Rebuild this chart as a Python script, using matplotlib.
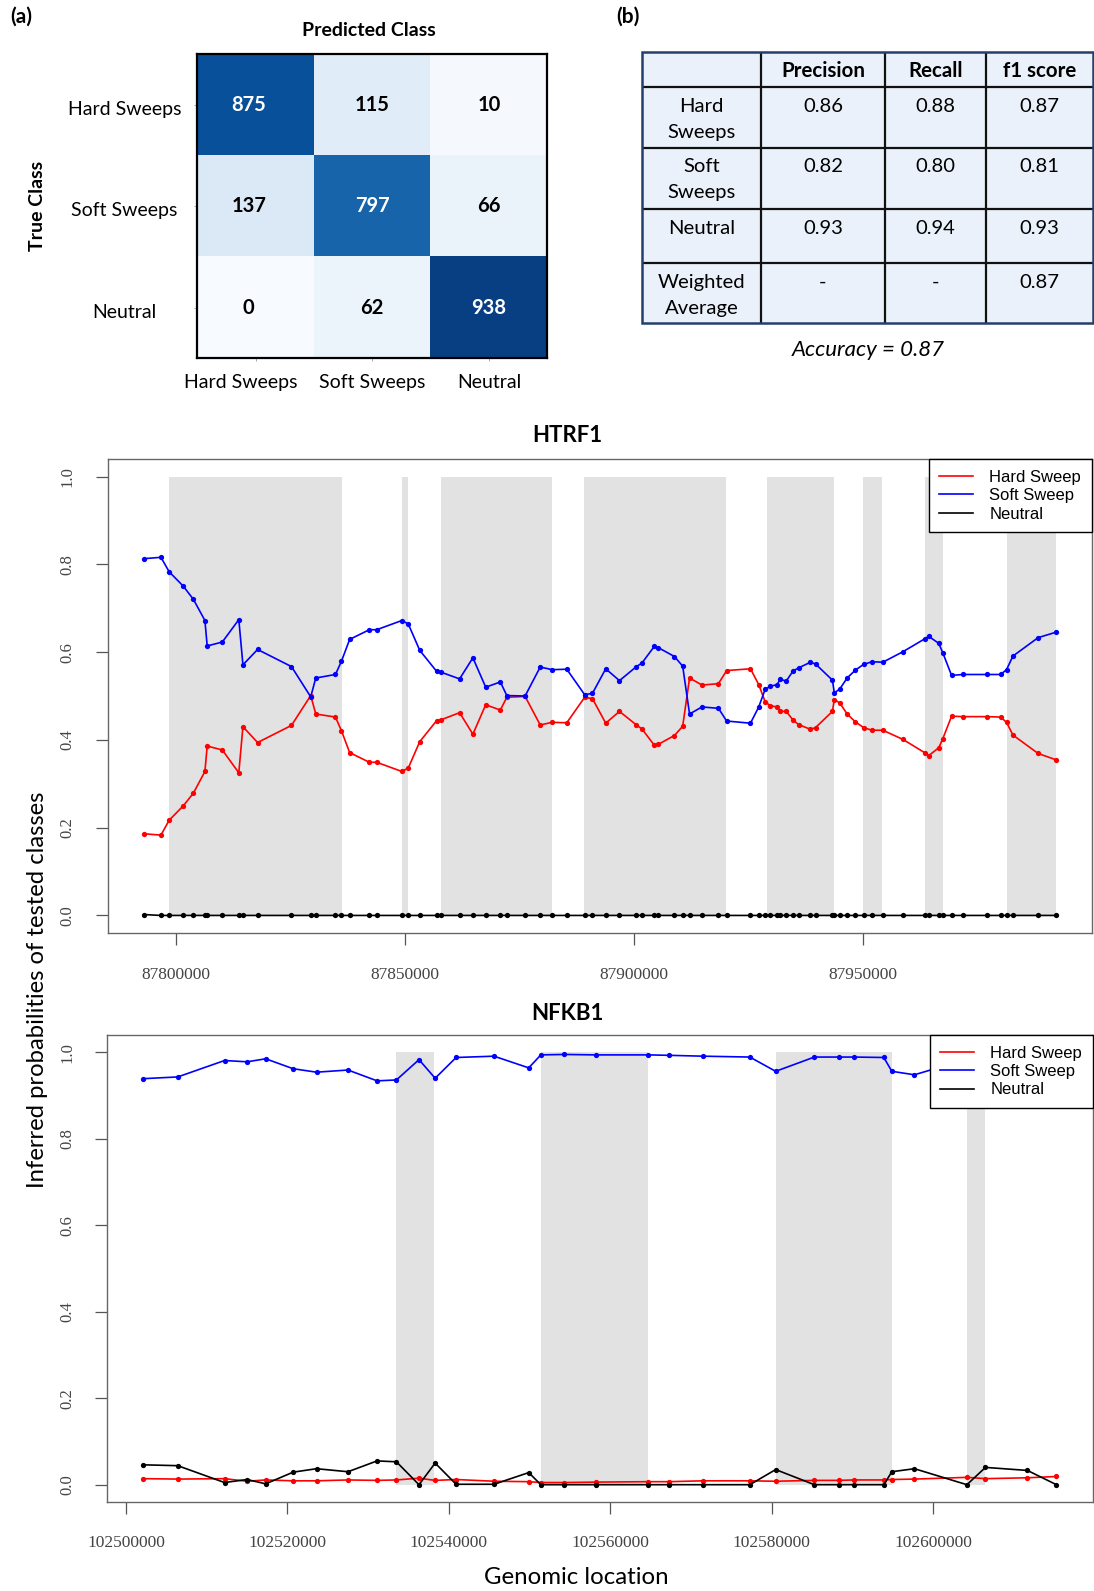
import matplotlib
matplotlib.use("Agg")
import matplotlib.pyplot as plt
from matplotlib.colors import Normalize
from matplotlib.lines import Line2D
from matplotlib.patches import Rectangle
from matplotlib.transforms import ScaledTranslation

# ---------------------------------------------------------------- data
classes = ["Hard Sweeps", "Soft Sweeps", "Neutral"]
confusion = [[875, 115, 10],
             [137, 797, 66],
             [0, 62, 938]]

metric_names = ["Precision", "Recall", "f1 score"]
report_rows = ["Hard\nSweeps", "Soft\nSweeps", "Neutral", "Weighted\nAverage"]
precision = [0.86, 0.82, 0.93, None]
recall = [0.88, 0.80, 0.94, None]
f1_score = [0.87, 0.81, 0.93, 0.87]
accuracy = 0.87

series_labels = ["Hard Sweep", "Soft Sweep", "Neutral"]
series_colors = ["#ff0000", "#0000ff", "#000000"]

# HTRF1 scan windows
htrf1_pos = [87793100, 87796700, 87798500, 87801600, 87803800, 87806300,
             87806800, 87810100, 87813700, 87814600, 87817800, 87825200,
             87829400, 87830500, 87834800, 87836100, 87837900, 87842200,
             87843800, 87849300, 87850700, 87853200, 87856900, 87857900,
             87861900, 87864800, 87867600, 87870800, 87872200, 87876200,
             87879500, 87882100, 87885300, 87889200, 87890900, 87893800,
             87896800, 87900500, 87901700, 87904400, 87905300, 87908800,
             87910600, 87912100, 87914800, 87918400, 87920200, 87925400,
             87927200, 87928600, 87929700, 87931200, 87931900, 87933200,
             87934700, 87935900, 87938500, 87939600, 87943300, 87943700,
             87944900, 87946500, 87948300, 87950100, 87951900, 87954300,
             87958700, 87963400, 87964300, 87966500, 87967400, 87969300,
             87971800, 87977100, 87980000, 87981300, 87982700, 87988200,
             87992000]
htrf1_hard = [0.186, 0.183, 0.217, 0.250, 0.279, 0.328, 0.386, 0.377, 0.325,
              0.430, 0.394, 0.433, 0.501, 0.459, 0.452, 0.421, 0.371, 0.349,
              0.349, 0.328, 0.336, 0.396, 0.444, 0.446, 0.462, 0.413, 0.480,
              0.468, 0.497, 0.499, 0.434, 0.440, 0.439, 0.497, 0.494, 0.438,
              0.465, 0.434, 0.425, 0.388, 0.390, 0.410, 0.431, 0.541, 0.525,
              0.528, 0.558, 0.562, 0.526, 0.487, 0.478, 0.475, 0.465, 0.465,
              0.445, 0.435, 0.424, 0.428, 0.465, 0.492, 0.484, 0.459, 0.441,
              0.428, 0.422, 0.422, 0.401, 0.371, 0.364, 0.382, 0.403, 0.454,
              0.453, 0.453, 0.452, 0.440, 0.411, 0.369, 0.355]
htrf1_soft = [0.813, 0.816, 0.783, 0.750, 0.720, 0.672, 0.614, 0.623, 0.674,
              0.571, 0.606, 0.567, 0.498, 0.541, 0.549, 0.579, 0.629, 0.651,
              0.651, 0.672, 0.664, 0.604, 0.556, 0.554, 0.539, 0.587, 0.520,
              0.532, 0.501, 0.500, 0.566, 0.560, 0.561, 0.503, 0.506, 0.562,
              0.535, 0.567, 0.575, 0.613, 0.610, 0.590, 0.568, 0.459, 0.475,
              0.472, 0.443, 0.438, 0.475, 0.515, 0.522, 0.526, 0.538, 0.534,
              0.557, 0.564, 0.577, 0.573, 0.536, 0.507, 0.516, 0.541, 0.559,
              0.572, 0.578, 0.577, 0.601, 0.630, 0.636, 0.620, 0.598, 0.547,
              0.549, 0.549, 0.549, 0.560, 0.591, 0.633, 0.645]
htrf1_neutral = [0.002, 0.000, 0.000, 0.000, 0.000, 0.000, 0.000, 0.000, 0.000,
                 0.000, 0.000, 0.000, 0.000, 0.000, 0.000, 0.000, 0.000, 0.000,
                 0.000, 0.000, 0.000, 0.000, 0.000, 0.000, 0.000, 0.000, 0.000,
                 0.000, 0.000, 0.000, 0.000, 0.000, 0.000, 0.000, 0.000, 0.000,
                 0.000, 0.000, 0.000, 0.000, 0.000, 0.000, 0.000, 0.000, 0.000,
                 0.000, 0.000, 0.000, 0.000, 0.000, 0.000, 0.000, 0.000, 0.000,
                 0.000, 0.000, 0.000, 0.000, 0.000, 0.000, 0.000, 0.000, 0.000,
                 0.000, 0.000, 0.000, 0.000, 0.000, 0.000, 0.000, 0.000, 0.000,
                 0.000, 0.000, 0.000, 0.000, 0.000, 0.000, 0.000]
htrf1_regions = [(87798500, 87836300), (87849400, 87850700),
                 (87857900, 87882100), (87889100, 87920100),
                 (87928900, 87943700), (87950000, 87954200),
                 (87963400, 87967500), (87981500, 87992000)]
htrf1_ticks = [87800000, 87850000, 87900000, 87950000]

# NFKB1 scan windows
nfkb1_pos = [102502100, 102506400, 102512200, 102515000, 102517300,
             102520700, 102523600, 102527500, 102531100, 102533500,
             102536300, 102538300, 102540900, 102545600, 102549900,
             102551400, 102554300, 102558200, 102564700, 102567300,
             102571500, 102577300, 102580500, 102585300, 102588300,
             102590200, 102593900, 102594900, 102597700, 102604200,
             102606500, 102611700, 102615300]
nfkb1_hard = [0.014, 0.013, 0.014, 0.008, 0.011, 0.009, 0.009, 0.011, 0.010,
              0.011, 0.015, 0.010, 0.012, 0.008, 0.007, 0.005, 0.005, 0.006,
              0.007, 0.007, 0.009, 0.009, 0.008, 0.010, 0.010, 0.011, 0.011,
              0.012, 0.013, 0.017, 0.014, 0.016, 0.019]
nfkb1_soft = [0.939, 0.943, 0.981, 0.978, 0.985, 0.962, 0.954, 0.959, 0.934,
              0.936, 0.983, 0.940, 0.988, 0.991, 0.964, 0.994, 0.995, 0.994,
              0.994, 0.993, 0.991, 0.989, 0.956, 0.989, 0.989, 0.989, 0.988,
              0.956, 0.948, 0.984, 0.946, 0.951, 0.981]
nfkb1_neutral = [0.046, 0.044, 0.005, 0.012, 0.002, 0.029, 0.037, 0.030, 0.055,
                 0.053, 0.000, 0.050, 0.001, 0.001, 0.028, 0.000, 0.000, 0.000,
                 0.000, 0.000, 0.000, 0.000, 0.035, 0.000, 0.000, 0.000, 0.000,
                 0.030, 0.037, 0.000, 0.040, 0.033, 0.000]
nfkb1_regions = [(102533500, 102538200), (102551400, 102564700),
                 (102580500, 102594900), (102604200, 102606500)]
nfkb1_ticks = [102500000, 102520000, 102540000, 102560000, 102580000,
               102600000]

prob_ticks = [0.0, 0.2, 0.4, 0.6, 0.8, 1.0]

# ---------------------------------------------------------------- layout
W, H, DPI = 1094, 1591, 100
SANS = "Lato"
SERIF = "Liberation Serif"
R_SANS = "Liberation Sans"


def rect(left, top, right, bottom):
    """Axes rectangle from pixel edges (origin top-left)."""
    return [left / W, 1 - bottom / H, (right - left) / W, (bottom - top) / H]


def shift(dx_px, dy_px=0):
    """Nudge in pixels (positive dy moves up)."""
    return ScaledTranslation(dx_px / DPI, dy_px / DPI, fig.dpi_scale_trans)


fig = plt.figure(figsize=(W / DPI, H / DPI), dpi=DPI)
fig.patch.set_facecolor("white")

# pixel-space canvas for labels and the metrics table
canvas = fig.add_axes([0, 0, 1, 1])
canvas.set_xlim(0, W)
canvas.set_ylim(H, 0)
canvas.axis("off")

# ---------------------------------------------------------------- (a) confusion matrix
cm_ax = fig.add_axes(rect(197.3, 54.3, 547.3, 358.3))
cm_ax.imshow(confusion, cmap="Blues", norm=Normalize(0, 1000), aspect="auto")
for i, row in enumerate(confusion):
    for j, v in enumerate(row):
        cm_ax.text(j, i, str(v), ha="center", va="center", fontsize=14.5,
                   fontweight="bold", family=SANS,
                   color="white" if v > 500 else "black",
                   transform=cm_ax.transData + shift(-7 if j == 0 else 0))
cm_ax.set_xticks(range(len(classes)), classes, fontsize=14, family=SANS,
                 va="center")
cm_ax.set_yticks(range(len(classes)), classes, fontsize=14, family=SANS,
                 ha="center")
cm_ax.tick_params(axis="x", length=2.2, width=0.6, color="#999999", pad=15.3)
cm_ax.tick_params(axis="y", length=2.2, width=0.6, color="#999999", pad=50.2)
first_col = cm_ax.get_xticklabels()[0]
first_col.set_transform(first_col.get_transform() + shift(-15))
for lbl in cm_ax.get_yticklabels():
    lbl.set_transform(lbl.get_transform() + shift(0, -3))
for s in cm_ax.spines.values():
    s.set_color("black")
    s.set_linewidth(1.6)

canvas.text(21, 17, "(a)", fontsize=15, fontweight="bold", family=SANS,
            ha="center", va="center")
canvas.text(369, 31, "Predicted Class", fontsize=14, fontweight="bold",
            family=SANS, ha="center", va="center")
canvas.text(37.5, 206, "True Class", fontsize=14, fontweight="bold",
            family=SANS, ha="center", va="center", rotation=90)

# ---------------------------------------------------------------- (b) metrics table
canvas.text(628, 17, "(b)", fontsize=15, fontweight="bold", family=SANS,
            ha="center", va="center")
col_edges = [641.7, 761, 885, 986, 1093]
row_edges = [52.3, 87.3, 147.7, 209, 263.3, 323.3]
canvas.add_patch(Rectangle((col_edges[0], row_edges[0]),
                           col_edges[-1] - col_edges[0],
                           row_edges[-1] - row_edges[0],
                           facecolor="#eaf1fa", edgecolor="none", zorder=1))
for x in col_edges[1:-1]:
    canvas.plot([x, x], [row_edges[0], row_edges[-1]], color="#111111",
                lw=1.6, zorder=2, solid_capstyle="butt")
for y in row_edges[1:-1]:
    canvas.plot([col_edges[0], col_edges[-1]], [y, y], color="#111111",
                lw=1.6, zorder=2, solid_capstyle="butt")
canvas.add_patch(Rectangle((col_edges[0], row_edges[0]),
                           col_edges[-1] - col_edges[0],
                           row_edges[-1] - row_edges[0],
                           facecolor="none", edgecolor="#24406a", lw=1.8,
                           zorder=3))

col_centers = [(a + b) / 2 for a, b in zip(col_edges[:-1], col_edges[1:])]
for name, cx in zip(metric_names, col_centers[1:]):
    canvas.text(cx, (row_edges[0] + row_edges[1]) / 2 + 1, name,
                fontsize=14.8, fontweight="bold", family=SANS, ha="center",
                va="center", zorder=4)


def fmt(v):
    return "-" if v is None else f"{v:.2f}"


for r, label in enumerate(report_rows):
    top = row_edges[r + 1]
    for k, line in enumerate(label.split("\n")):
        canvas.text(col_centers[0], top + 19 + 26 * k, line, fontsize=14.6,
                    family=SANS, ha="center", va="center", zorder=4)
    for c, values in enumerate([precision, recall, f1_score]):
        canvas.text(col_centers[c + 1], top + 19, fmt(values[r]),
                    fontsize=14.6, family=SANS, ha="center", va="center",
                    zorder=4)

canvas.text(868, 350, f"Accuracy = {accuracy:.2f}", fontsize=16,
            style="italic", family=SANS, ha="center", va="center")


# ---------------------------------------------------------------- scan panels
def scan_panel(axrect, pos, hard, soft, neutral, regions, xticks,
               xpad, ypad):
    ax = fig.add_axes(axrect)
    span = max(pos) - min(pos)
    ax.set_xlim(min(pos) - 0.04 * span, max(pos) + 0.04 * span)
    ax.set_ylim(-0.04, 1.04)
    for a, b in regions:
        ax.fill_betweenx([0, 1], a, b, color="#e2e2e2", lw=0, zorder=0)
    for vals, col in zip([hard, soft, neutral], series_colors):
        ax.plot(pos, vals, "-o", color=col, lw=1.2, ms=3.8, mew=0, zorder=2)
    ax.set_xticks(xticks, [str(t) for t in xticks], family=SERIF,
                  fontsize=12.5, color="#444444", va="center")
    ax.set_yticks(prob_ticks, [f"{t:.1f}" for t in prob_ticks], family=SERIF,
                  fontsize=12, color="#444444", rotation=90, ha="center",
                  va="center")
    ax.tick_params(axis="x", direction="out", length=8.6, width=0.9,
                   color="#555555", pad=xpad)
    ax.tick_params(axis="y", direction="out", length=8.6, width=0.9,
                   color="#555555", pad=ypad)
    for s in ax.spines.values():
        s.set_color("#666666")
        s.set_linewidth(1.0)
    handles = [Line2D([], [], color=c, lw=1.2) for c in series_colors]
    leg = ax.legend(handles, series_labels, loc="upper right",
                    borderaxespad=0, fancybox=False, framealpha=1,
                    edgecolor="black", prop={"family": R_SANS, "size": 12},
                    handlelength=2.0, handletextpad=1.0, borderpad=0.65,
                    labelspacing=0.2)
    leg.get_frame().set_linewidth(1.0)
    return ax


scan_panel(rect(108, 459, 1092, 933), htrf1_pos, htrf1_hard, htrf1_soft,
           htrf1_neutral, htrf1_regions, htrf1_ticks, xpad=21.6, ypad=20.9)
scan_panel(rect(106.5, 1035, 1093, 1502), nfkb1_pos, nfkb1_hard, nfkb1_soft,
           nfkb1_neutral, nfkb1_regions, nfkb1_ticks, xpad=20.6, ypad=19.8)

canvas.text(567, 436, "HTRF1", fontsize=16, fontweight="bold", family=SANS,
            ha="center", va="center")
canvas.text(567, 1013, "NFKB1", fontsize=16, fontweight="bold", family=SANS,
            ha="center", va="center")
canvas.text(37.5, 990, "Inferred probabilities of tested classes",
            fontsize=17.2, family=SANS, ha="center", va="center", rotation=90)
canvas.text(576, 1578, "Genomic location", fontsize=17.3, family=SANS,
            ha="center", va="center")

fig.savefig("out.png", dpi=DPI, facecolor="white")
